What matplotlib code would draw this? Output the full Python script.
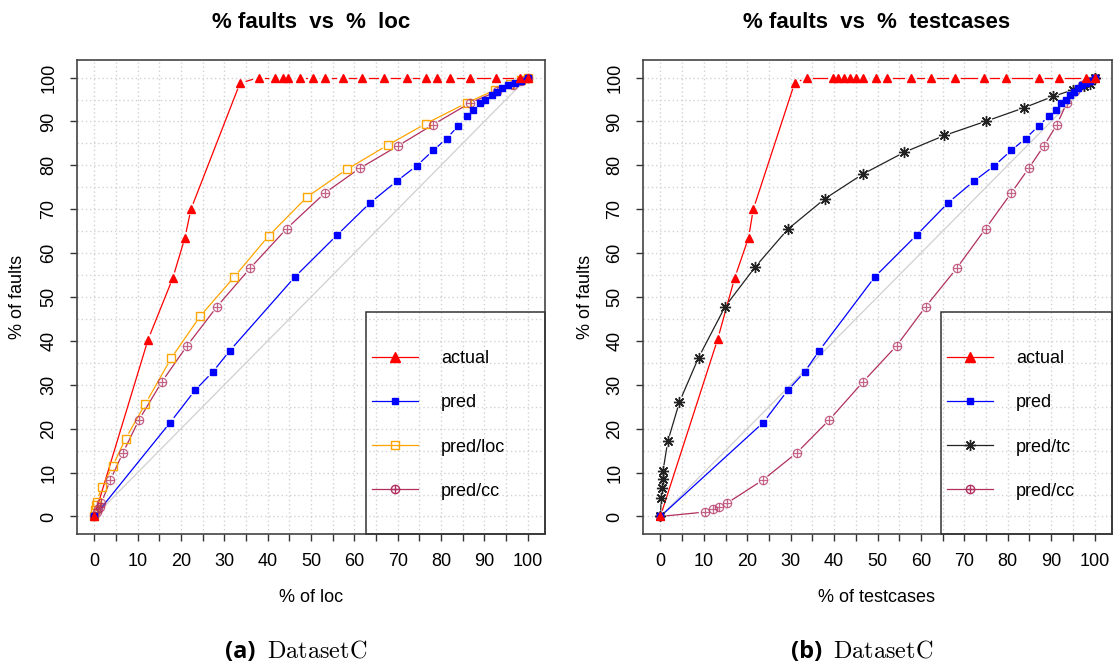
import numpy as np
import matplotlib
matplotlib.use('Agg')
import matplotlib.pyplot as plt
from matplotlib.patches import Rectangle
from matplotlib.lines import Line2D

plt.rcParams['font.family'] = ['Liberation Sans', 'DejaVu Sans']
plt.rcParams['mathtext.fontset'] = 'cm'

# ---- panel (a): % faults vs % loc ----
loc_actual_x = [0, 12.4, 18.1, 20.9, 22.3, 33.6, 37.9, 41.6, 43.6, 44.7, 47.4, 50.5, 53.3, 57.3,
                61.8, 66.9, 72.1, 76.5, 79.1, 82.1, 86.8, 92.8, 98.2, 100]
loc_actual_y = [0, 40.3, 54.3, 63.5, 70.0, 98.7] + [100] * 18

loc_pred_x = [0, 17.5, 23.2, 27.3, 31.3, 46.3, 56.0, 63.7, 69.8, 74.4, 78.2, 81.3, 84.0, 85.9,
              87.4, 89.0, 90.1, 91.7, 93.0, 94.1, 95.5, 97.0, 98.5, 100]
pred_y = [0, 21.4, 28.7, 32.9, 37.8, 54.6, 64.1, 71.5, 76.4, 79.9, 83.4, 86.1, 89.0, 91.2,
          92.7, 94.2, 95.0, 96.1, 96.7, 97.7, 98.3, 98.8, 99.3, 100]

loc_predloc_x = [0, 0.2, 0.3, 0.5, 1.8, 4.2, 7.2, 11.8, 17.7, 24.4, 32.3, 40.2, 49.1, 58.3,
                 67.7, 76.5, 85.9, 92.5, 96.0, 98.5, 100]
loc_predloc_y = [0, 1.5, 2.5, 3.4, 6.8, 11.4, 17.7, 25.7, 36.0, 45.6, 54.6, 63.9, 72.8, 79.1,
                 84.6, 89.5, 94.2, 97.2, 98.6, 99.5, 100]

loc_predcc_x = [0, 0.6, 0.9, 1.2, 1.6, 3.7, 6.6, 10.3, 15.6, 21.4, 28.3, 35.9, 44.4, 53.2,
                61.2, 70.0, 78.2, 86.7, 93.0, 96.6, 98.5, 100]
predcc_y = [0, 1.0, 1.6, 2.1, 3.0, 8.3, 14.5, 22.0, 30.7, 38.9, 47.8, 56.5, 65.6, 73.7,
            79.3, 84.4, 89.3, 94.2, 96.9, 98.4, 99.2, 100]

# ---- panel (b): % faults vs % testcases ----
tc_actual_x = [0, 13.2, 17.1, 20.3, 21.4, 30.9, 33.7, 39.8, 41.0, 42.3, 43.7, 45.1, 46.6, 49.6,
               52.1, 57.7, 62.3, 67.8, 74.5, 79.5, 87.1, 91.7, 98.1, 100]
tc_actual_y = [0, 40.4, 54.3, 63.5, 70.0, 98.7] + [100] * 18

tc_pred_x = [0, 23.7, 29.3, 33.2, 36.6, 49.4, 59.0, 66.3, 72.2, 76.9, 80.8, 84.1, 87.1, 89.4,
             91.0, 92.2, 93.3, 94.3, 95.2, 96.1, 97.0, 98.0, 99.0, 100]

tc_predtc_x = [0, 0.2, 0.3, 0.5, 0.6, 1.7, 4.4, 8.8, 14.9, 21.8, 29.3, 37.9, 46.6, 56.2,
               65.4, 75.1, 83.7, 90.4, 95.0, 97.5, 99.0, 100]
tc_predtc_y = [0, 4.1, 6.5, 8.6, 10.3, 17.1, 26.1, 36.2, 47.8, 56.8, 65.4, 72.4, 78.0, 83.0,
               86.8, 90.1, 93.1, 95.7, 97.2, 98.0, 98.6, 100]

tc_predcc_x = [0, 10.2, 12.1, 13.6, 15.3, 23.6, 31.4, 38.9, 46.7, 54.4, 61.1, 68.2, 74.9, 80.8,
               84.8, 88.3, 91.3, 93.6, 95.4, 97.0, 98.5, 100]

RED, BLUE, ORANGE, MAROON, BLACK = '#FF0000', '#0000FF', '#FFA500', '#B03060', '#222222'


def broken_line(ax, x, y, color, gap=6.5, lw=0.9):
    # like R type="b": each segment stops short of the points
    x = np.asarray(x, float)
    y = np.asarray(y, float)
    pts = ax.transData.transform(np.column_stack([x, y]))
    for i in range(len(x) - 1):
        d = np.hypot(*(pts[i + 1] - pts[i]))
        if d <= 2 * gap:
            continue
        t = gap / d
        dx, dy = x[i + 1] - x[i], y[i + 1] - y[i]
        ax.plot([x[i] + t * dx, x[i + 1] - t * dx], [y[i] + t * dy, y[i + 1] - t * dy],
                color=color, lw=lw, zorder=3)


def setup(ax):
    ax.set_xlim(-4, 104)
    ax.set_ylim(-4, 104)
    xt = np.arange(0, 101, 5)
    ax.set_xticks(xt)
    ax.set_xticklabels([str(v) if v % 10 == 0 else '' for v in xt])
    ax.set_yticks(np.arange(0, 101, 10))
    ax.set_yticklabels([str(v) for v in range(0, 101, 10)], rotation=90, va='center')
    ax.set_yticks(np.arange(5, 100, 10), minor=True)
    ax.tick_params(which='major', length=5, width=1, color='#333333', labelsize=13, pad=9)
    ax.tick_params(which='minor', length=0)
    ax.grid(True, which='both', color='#d2d2d2', linestyle=(0, (1, 2)), lw=1)
    for s in ax.spines.values():
        s.set_color('#444444')
        s.set_linewidth(1.2)
    ax.set_axisbelow(True)
    ax.plot([0, 100], [0, 100], color='#d0d0d0', lw=0.9, zorder=2)


def plus_circle(ax, x, y, alpha=0.75):
    ax.plot(x, y, ls='none', marker='o', ms=6, mfc='none', mec=MAROON, mew=0.9, alpha=alpha, zorder=4)
    ax.plot(x, y, ls='none', marker='+', ms=6, mec=MAROON, mew=0.9, alpha=alpha, zorder=4)


fig = plt.figure(figsize=(11.15, 6.7), dpi=100)
ax1 = fig.add_axes([77 / 1115, 136 / 670, 468 / 1115, 474 / 670])
ax2 = fig.add_axes([643 / 1115, 136 / 670, 469 / 1115, 474 / 670])
setup(ax1)
setup(ax2)

# panel (a)
broken_line(ax1, loc_actual_x, loc_actual_y, RED)
broken_line(ax1, loc_pred_x, pred_y, BLUE)
broken_line(ax1, loc_predloc_x, loc_predloc_y, ORANGE)
broken_line(ax1, loc_predcc_x, predcc_y, MAROON)
ax1.plot(loc_predloc_x, loc_predloc_y, ls='none', marker='s', ms=5.8, mfc='none', mec=ORANGE, mew=1, zorder=4)
plus_circle(ax1, loc_predcc_x, predcc_y)
ax1.plot(loc_pred_x, pred_y, ls='none', marker='s', ms=5, color=BLUE, zorder=5)
ax1.plot(loc_actual_x, loc_actual_y, ls='none', marker='^', ms=6, color=RED, zorder=5)

# panel (b)
broken_line(ax2, tc_actual_x, tc_actual_y, RED)
broken_line(ax2, tc_pred_x, pred_y, BLUE)
broken_line(ax2, tc_predtc_x, tc_predtc_y, BLACK)
broken_line(ax2, tc_predcc_x, predcc_y, MAROON)
plus_circle(ax2, tc_predcc_x, predcc_y)
ax2.plot(tc_predtc_x, tc_predtc_y, ls='none', marker=(8, 2, 0), ms=8, mec=BLACK, mew=1, zorder=4)
ax2.plot(tc_pred_x, pred_y, ls='none', marker='s', ms=5, color=BLUE, zorder=5)
ax2.plot(tc_actual_x, tc_actual_y, ls='none', marker='^', ms=6, color=RED, zorder=5)

# legends
h_actual = Line2D([], [], color=RED, lw=0.9, marker='^', ms=6.5)
h_pred = Line2D([], [], color=BLUE, lw=0.9, marker='s', ms=5)
h_loc = Line2D([], [], color=ORANGE, lw=0.9, marker='s', ms=5.8, mfc='none')
h_tc = Line2D([], [], color=BLACK, lw=0.9, marker=(8, 2, 0), ms=8)
h_cc = (Line2D([], [], color=MAROON, lw=0.9, marker='o', ms=6, mfc='none'),
        Line2D([], [], ls='none', color=MAROON, marker='+', ms=6))

for ax, handles, labels, bx in [
        (ax1, [h_actual, h_pred, h_loc, h_cc], ['actual', 'pred', 'pred/loc', 'pred/cc'], 0.617),
        (ax2, [h_actual, h_pred, h_tc, h_cc], ['actual', 'pred', 'pred/tc', 'pred/cc'], 0.635)]:
    ax.add_patch(Rectangle((bx, 0), 1 - bx, 0.468, transform=ax.transAxes, fill=False,
                           edgecolor='#333333', lw=1.1, zorder=6, clip_on=False))
    ax.legend(handles, labels, loc='center left', bbox_to_anchor=(bx - 0.007, 0.230),
              frameon=False, borderpad=0, fontsize=13, handlelength=2.55,
              handletextpad=1.3, labelspacing=1.5)

# titles, axis labels, captions
fig.text(311 / 1115, 1 - 23 / 670, '% faults  vs  %  loc', ha='center', va='center',
         fontsize=16, fontweight='bold')
fig.text(877 / 1115, 1 - 23 / 670, '% faults  vs  %  testcases', ha='center', va='center',
         fontsize=16, fontweight='bold')
fig.text(311 / 1115, 1 - 598 / 670, '% of loc', ha='center', va='center', fontsize=13)
fig.text(877 / 1115, 1 - 598 / 670, '% of testcases', ha='center', va='center', fontsize=13)
fig.text(18 / 1115, 1 - 297 / 670, '% of faults', ha='center', va='center', fontsize=13, rotation=90)
fig.text(585 / 1115, 1 - 297 / 670, '% of faults', ha='center', va='center', fontsize=13, rotation=90)

for cx, tag in [(295, '(a)'), (861, '(b)')]:
    fig.text((cx - 39) / 1115, 1 - 652 / 670, tag, ha='right', va='center',
             fontsize=17, fontweight='bold', family=['Open Sans', 'DejaVu Sans'])
    fig.text((cx - 28) / 1115, 1 - 652 / 670, r'$\mathrm{DatasetC}$', ha='left', va='center',
             fontsize=17.5)

fig.savefig('out.png', dpi=100)
